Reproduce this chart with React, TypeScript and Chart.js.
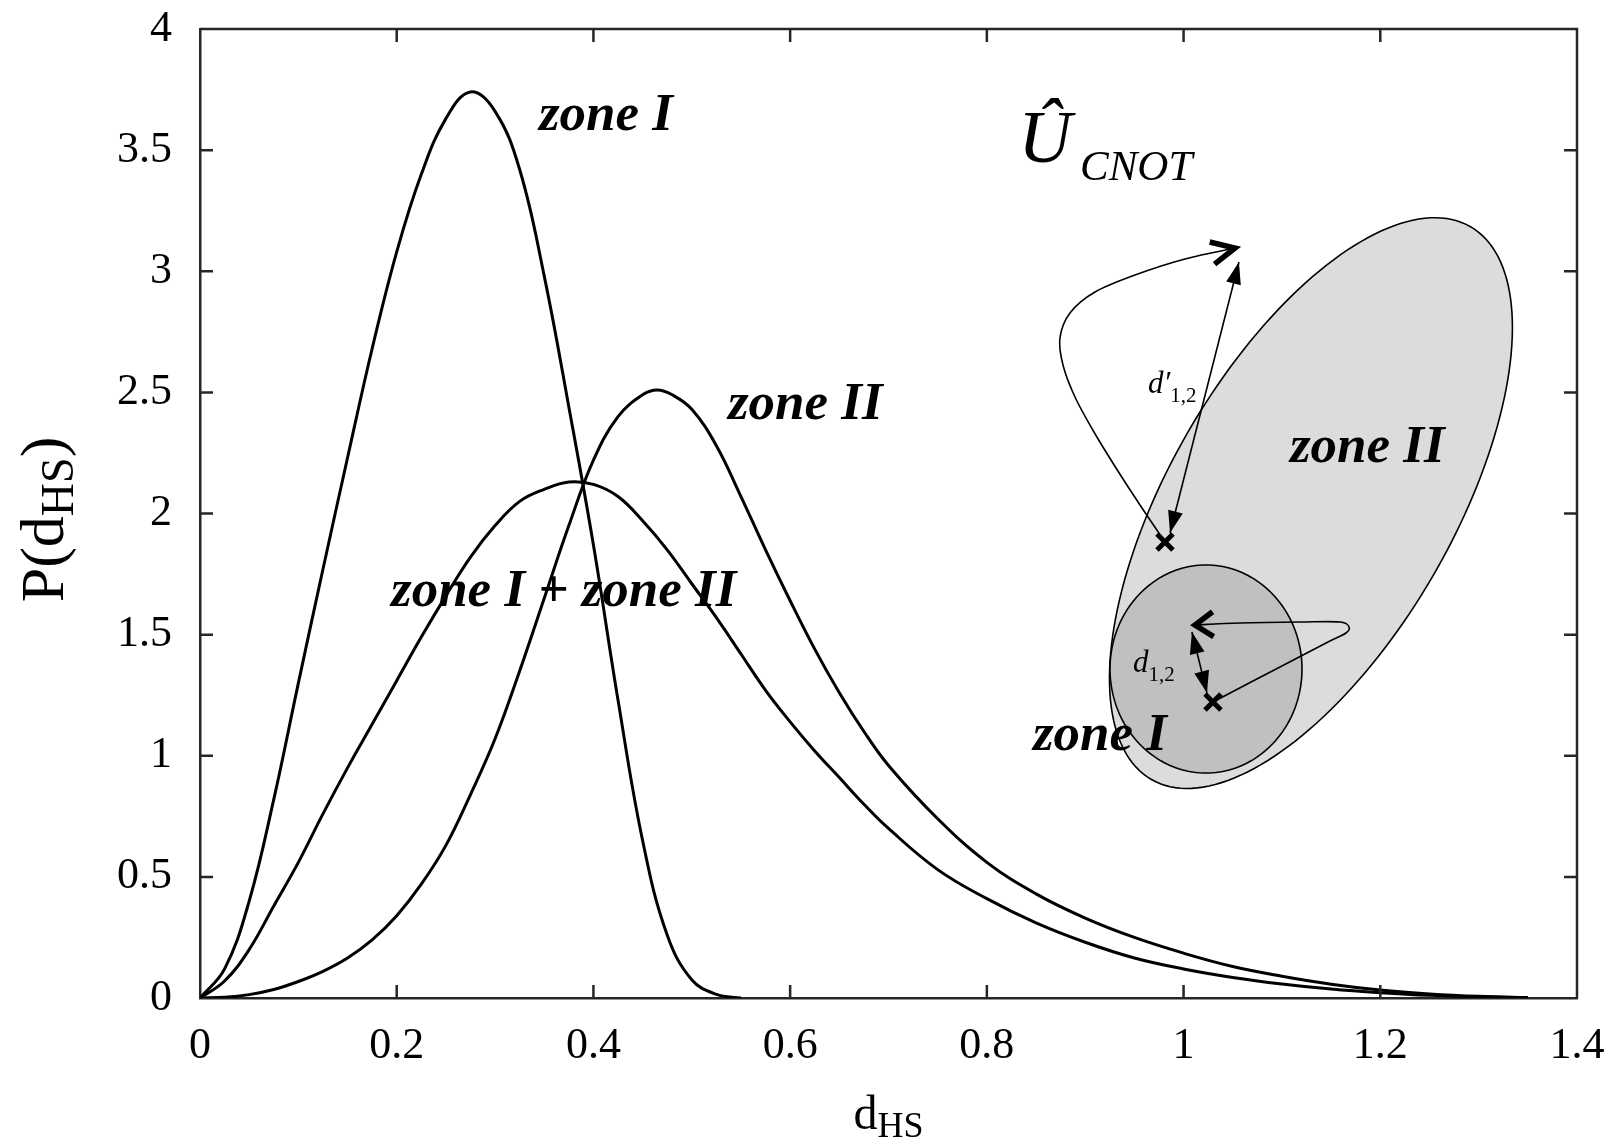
import React, { useEffect, useRef } from "react";
import { Chart, registerables } from "chart.js";

Chart.register(...registerables);

const SERIF = '"Liberation Serif", "Times New Roman", Times, serif';

// ---- axis ticks ----
const xTicks = [0, 0.2, 0.4, 0.6, 0.8, 1, 1.2, 1.4];
const yTicks = [0, 0.5, 1, 1.5, 2, 2.5, 3, 3.5, 4];

// ---- series: zone I ----
const zoneIX = [0, 0.025, 0.05, 0.075, 0.1, 0.125, 0.15, 0.175, 0.2, 0.225, 0.25, 0.275, 0.3, 0.325, 0.35, 0.375, 0.4, 0.425, 0.45, 0.475, 0.5, 0.525, 0.55];
const zoneIY = [0, 0.12, 0.4, 0.82, 1.3, 1.77, 2.23, 2.68, 3.08, 3.4, 3.63, 3.74, 3.66, 3.42, 2.98, 2.44, 1.87, 1.23, 0.65, 0.26, 0.075, 0.015, 0];

// ---- series: zone I + zone II ----
const bothX = [0, 0.025, 0.05, 0.075, 0.1, 0.125, 0.15, 0.175, 0.2, 0.225, 0.25, 0.275, 0.3, 0.325, 0.35, 0.375, 0.4, 0.425, 0.45, 0.475, 0.5, 0.525, 0.55, 0.575, 0.6, 0.625, 0.65, 0.675, 0.7, 0.75, 0.8, 0.85, 0.9, 0.95, 1.0, 1.05, 1.1, 1.15, 1.2, 1.25, 1.3, 1.35];
const bothY = [0, 0.07, 0.2, 0.38, 0.56, 0.76, 0.95, 1.13, 1.31, 1.49, 1.66, 1.82, 1.95, 2.05, 2.1, 2.13, 2.12, 2.07, 1.97, 1.85, 1.71, 1.57, 1.42, 1.27, 1.14, 1.02, 0.91, 0.8, 0.7, 0.53, 0.41, 0.31, 0.23, 0.165, 0.12, 0.085, 0.058, 0.037, 0.022, 0.011, 0.005, 0.001];

// ---- series: zone II ----
const zoneIIX = [0, 0.025, 0.05, 0.075, 0.1, 0.125, 0.15, 0.175, 0.2, 0.225, 0.25, 0.275, 0.3, 0.325, 0.35, 0.375, 0.4, 0.425, 0.45, 0.465, 0.48, 0.5, 0.525, 0.55, 0.575, 0.6, 0.625, 0.65, 0.675, 0.7, 0.75, 0.8, 0.85, 0.9, 0.95, 1.0, 1.05, 1.1, 1.15, 1.2, 1.25, 1.3, 1.35];
const zoneIIY = [0, 0.003, 0.014, 0.035, 0.068, 0.11, 0.165, 0.24, 0.34, 0.47, 0.63, 0.84, 1.07, 1.35, 1.65, 1.95, 2.22, 2.4, 2.49, 2.51, 2.49, 2.43, 2.28, 2.07, 1.85, 1.64, 1.44, 1.26, 1.1, 0.96, 0.74, 0.56, 0.43, 0.33, 0.25, 0.185, 0.13, 0.09, 0.057, 0.033, 0.017, 0.007, 0.002];

// ---- curve labels (data coords of left/baseline) ----
const curveLabelText = ["zone I", "zone II", "zone I + zone II", "zone II", "zone I"];
const curveLabelX = [0.3446, 0.5368, 0.1942, 1.1082, 0.8469];
const curveLabelY = [3.583, 2.39, 1.618, 2.2126, 1.0237];

// ---- inset sketch (data coords) ----
const bigZone = { c: [1.1295, 2.043], major: [1.2917, 3.184], minor: [1.2546, 1.75] };
const smallZone = { c: [1.0228, 1.3581], major: [1.1204, 1.3581], minor: [1.0228, 1.7874] };
const crossPts = [[0.9811, 1.882], [1.0299, 1.2219]];
const outerArrow = [[0.9862, 1.9195], [1.0563, 3.038]];
const innerArrow = [[1.0085, 1.511], [1.0238, 1.259]];
const outerPath = [[0.9811, 1.8824], [0.9557, 2.0351], [0.9313, 2.1878], [0.9089, 2.3364], [0.8896, 2.4809], [0.8774, 2.613], [0.8743, 2.7245], [0.8845, 2.8277], [0.9099, 2.9143], [0.9506, 2.9845], [1.0014, 3.0506], [1.0523, 3.096]];
const innerPath = [[1.0299, 1.2219], [1.098, 1.3664], [1.1488, 1.4737], [1.1651, 1.5067], [1.1682, 1.5315], [1.159, 1.5521], [1.1183, 1.5521], [1.0573, 1.548], [1.0116, 1.5397]];

type Pt = [number, number];

function toPx(chart: any, p: number[]): Pt {
  return [chart.scales.x.getPixelForValue(p[0]), chart.scales.y.getPixelForValue(p[1])];
}

function drawRich(ctx: CanvasRenderingContext2D, x: number, y: number, parts: { t: string; f: string; dy: number }[], align: "left" | "center" = "left") {
  let total = 0;
  for (const p of parts) {
    ctx.font = p.f;
    total += ctx.measureText(p.t).width;
  }
  let cx = align === "center" ? x - total / 2 : x;
  ctx.textAlign = "left";
  ctx.textBaseline = "alphabetic";
  for (const p of parts) {
    ctx.font = p.f;
    ctx.fillText(p.t, cx, y + p.dy);
    cx += ctx.measureText(p.t).width;
  }
}

function ellipse(ctx: CanvasRenderingContext2D, chart: any, z: any, fill: string) {
  const [cx, cy] = toPx(chart, z.c);
  const [mx, my] = toPx(chart, z.major);
  const [nx, ny] = toPx(chart, z.minor);
  const ux = mx - cx, uy = my - cy, vx = nx - cx, vy = ny - cy;
  ctx.beginPath();
  for (let i = 0; i <= 180; i++) {
    const t = (i / 180) * Math.PI * 2;
    const X = cx + ux * Math.cos(t) + vx * Math.sin(t);
    const Y = cy + uy * Math.cos(t) + vy * Math.sin(t);
    if (i === 0) ctx.moveTo(X, Y);
    else ctx.lineTo(X, Y);
  }
  ctx.closePath();
  ctx.fillStyle = fill;
  ctx.fill();
  ctx.lineWidth = 1.6;
  ctx.strokeStyle = "#000";
  ctx.stroke();
}

function smooth(ctx: CanvasRenderingContext2D, pts: Pt[]) {
  ctx.beginPath();
  ctx.moveTo(pts[0][0], pts[0][1]);
  for (let i = 0; i < pts.length - 1; i++) {
    const p0 = pts[i - 1] || pts[i];
    const p1 = pts[i];
    const p2 = pts[i + 1];
    const p3 = pts[i + 2] || p2;
    ctx.bezierCurveTo(
      p1[0] + (p2[0] - p0[0]) / 6, p1[1] + (p2[1] - p0[1]) / 6,
      p2[0] - (p3[0] - p1[0]) / 6, p2[1] - (p3[1] - p1[1]) / 6,
      p2[0], p2[1]
    );
  }
  ctx.stroke();
}

function filledHead(ctx: CanvasRenderingContext2D, tip: Pt, from: Pt, len = 22, half = 7) {
  const a = Math.atan2(tip[1] - from[1], tip[0] - from[0]);
  const bx = tip[0] - len * Math.cos(a), by = tip[1] - len * Math.sin(a);
  ctx.beginPath();
  ctx.moveTo(tip[0], tip[1]);
  ctx.lineTo(bx + half * Math.sin(a), by - half * Math.cos(a));
  ctx.lineTo(bx - half * Math.sin(a), by + half * Math.cos(a));
  ctx.closePath();
  ctx.fill();
}

function chevron(ctx: CanvasRenderingContext2D, tip: Pt, from: Pt, len = 24, ang = 0.45) {
  const a = Math.atan2(from[1] - tip[1], from[0] - tip[0]);
  ctx.save();
  ctx.lineWidth = 5.5;
  ctx.lineCap = "butt";
  ctx.lineJoin = "miter";
  ctx.beginPath();
  ctx.moveTo(tip[0] + len * Math.cos(a + ang), tip[1] + len * Math.sin(a + ang));
  ctx.lineTo(tip[0], tip[1]);
  ctx.lineTo(tip[0] + len * Math.cos(a - ang), tip[1] + len * Math.sin(a - ang));
  ctx.stroke();
  ctx.restore();
}

const decorPlugin = {
  id: "decor",
  afterDatasetsDraw(chart: any) {
    const ctx: CanvasRenderingContext2D = chart.ctx;
    ctx.save();
    ellipse(ctx, chart, bigZone, "#dcdcdc");
    ellipse(ctx, chart, smallZone, "#c0c0c0");
    ctx.strokeStyle = "#000";
    ctx.fillStyle = "#000";
    ctx.lineWidth = 1.6;
    const op = outerPath.map((p) => toPx(chart, p));
    smooth(ctx, op);
    chevron(ctx, op[op.length - 1], op[op.length - 2], 26, 0.45);
    const ip = innerPath.map((p) => toPx(chart, p));
    ctx.lineWidth = 1.6;
    smooth(ctx, ip);
    chevron(ctx, ip[ip.length - 1], ip[ip.length - 2], 22, 0.6);
    for (const seg of [outerArrow, innerArrow]) {
      const a = toPx(chart, seg[0]);
      const b = toPx(chart, seg[1]);
      ctx.lineWidth = 1.6;
      ctx.beginPath();
      ctx.moveTo(a[0], a[1]);
      ctx.lineTo(b[0], b[1]);
      ctx.stroke();
      filledHead(ctx, a, b, 22, 7.5);
      filledHead(ctx, b, a, 22, 7.5);
    }
    ctx.lineWidth = 5;
    for (const c of crossPts) {
      const [x, y] = toPx(chart, c);
      const s = 8;
      ctx.beginPath();
      ctx.moveTo(x - s, y - s);
      ctx.lineTo(x + s, y + s);
      ctx.moveTo(x + s, y - s);
      ctx.lineTo(x - s, y + s);
      ctx.stroke();
    }
    ctx.restore();
  },
  afterDraw(chart: any) {
    const ctx: CanvasRenderingContext2D = chart.ctx;
    const { left, right, top, bottom } = chart.chartArea;
    const xs = chart.scales.x;
    const ys = chart.scales.y;
    ctx.save();
    ctx.strokeStyle = "#262626";
    ctx.lineWidth = 2.5;
    ctx.beginPath();
    ctx.moveTo(left, top);
    ctx.lineTo(right, top);
    ctx.lineTo(right, bottom);
    ctx.stroke();
    const tl = 13;
    ctx.beginPath();
    for (const v of xTicks) {
      if (v === xTicks[0] || v === xTicks[xTicks.length - 1]) continue;
      const px = xs.getPixelForValue(v);
      ctx.moveTo(px, bottom);
      ctx.lineTo(px, bottom - tl);
      ctx.moveTo(px, top);
      ctx.lineTo(px, top + tl);
    }
    for (const v of yTicks) {
      if (v === yTicks[0] || v === yTicks[yTicks.length - 1]) continue;
      const py = ys.getPixelForValue(v);
      ctx.moveTo(left, py);
      ctx.lineTo(left + tl, py);
      ctx.moveTo(right, py);
      ctx.lineTo(right - tl, py);
    }
    ctx.stroke();

    ctx.fillStyle = "#000";
    const lf = `italic bold 53px ${SERIF}`;
    curveLabelText.forEach((t, i) => {
      const [x, y] = toPx(chart, [curveLabelX[i], curveLabelY[i]]);
      drawRich(ctx, x, y, [{ t, f: lf, dy: 0 }]);
    });

    {
      const [x, y] = toPx(chart, [0.832, 3.451]);
      drawRich(ctx, x, y, [{ t: "Û", f: `italic 74px ${SERIF}`, dy: 0 }]);
      const [x2, y2] = toPx(chart, [0.8947, 3.377]);
      drawRich(ctx, x2, y2, [{ t: "CNOT", f: `italic 43px ${SERIF}`, dy: 0 }]);
    }
    {
      const [x, y] = toPx(chart, [0.9638, 2.4974]);
      drawRich(ctx, x, y, [
        { t: "d′", f: `italic 31px ${SERIF}`, dy: 0 },
        { t: "1,2", f: `21px ${SERIF}`, dy: 9 },
      ]);
      const [x2, y2] = toPx(chart, [0.9486, 1.3457]);
      drawRich(ctx, x2, y2, [
        { t: "d", f: `italic 31px ${SERIF}`, dy: 0 },
        { t: "1,2", f: `21px ${SERIF}`, dy: 9 },
      ]);
    }

    const cx = (left + right) / 2;
    drawRich(ctx, cx, 1129, [
      { t: "d", f: `48px ${SERIF}`, dy: 0 },
      { t: "HS", f: `36px ${SERIF}`, dy: 8 },
    ], "center");
    ctx.save();
    ctx.translate(63, (top + bottom) / 2 + 6);
    ctx.rotate(-Math.PI / 2);
    drawRich(ctx, 0, 0, [
      { t: "P(d", f: `62px ${SERIF}`, dy: 0 },
      { t: "HS", f: `46px ${SERIF}`, dy: 10 },
      { t: ")", f: `62px ${SERIF}`, dy: 0 },
    ], "center");
    ctx.restore();
    ctx.restore();
  },
};

function series(label: string, xs: number[], ys: number[]) {
  return {
    label,
    data: xs.map((x, i) => ({ x, y: ys[i] })),
    borderColor: "#000",
    borderWidth: 3,
    pointRadius: 0,
    showLine: true,
    fill: false,
    tension: 0.4,
  };
}

const fmt = (v: any) => String(Math.round(Number(v) * 100) / 100);

export default function App() {
  const ref = useRef<HTMLCanvasElement | null>(null);
  useEffect(() => {
    if (!ref.current) return;
    const chart = new Chart(ref.current, {
      type: "scatter",
      data: {
        datasets: [
          series("zone I", zoneIX, zoneIY),
          series("zone I + zone II", bothX, bothY),
          series("zone II", zoneIIX, zoneIIY),
        ],
      },
      options: {
        animation: false,
        responsive: false,
        devicePixelRatio: 1,
        layout: { padding: { top: 29, right: 35, left: 0, bottom: 0 } },
        plugins: { legend: { display: false }, tooltip: { enabled: false } },
        scales: {
          x: {
            type: "linear",
            min: 0,
            max: 1.4,
            afterFit: (s: any) => { s.height = 148; s.paddingLeft = 0; s.paddingRight = 0; },
            afterBuildTicks: (s: any) => { s.ticks = xTicks.map((v) => ({ value: v })); },
            ticks: {
              color: "#000",
              font: { family: SERIF, size: 44 },
              padding: 22,
              maxRotation: 0,
              autoSkip: false,
              callback: fmt,
            },
            grid: { display: false, drawTicks: false },
            border: { display: true, color: "#262626", width: 2.5 },
          },
          y: {
            type: "linear",
            min: 0,
            max: 4,
            afterFit: (s: any) => { s.width = 200; s.paddingTop = 0; s.paddingBottom = 0; },
            afterBuildTicks: (s: any) => { s.ticks = yTicks.map((v) => ({ value: v })); },
            ticks: {
              color: "#000",
              font: { family: SERIF, size: 44 },
              padding: 28,
              autoSkip: false,
              callback: fmt,
            },
            grid: { display: false, drawTicks: false },
            border: { display: true, color: "#262626", width: 2.5 },
          },
        },
      },
      plugins: [decorPlugin],
    });
    return () => chart.destroy();
  }, []);
  return (
    <div style={{ position: "absolute", left: 0, top: 0, width: 1612, height: 1146, background: "#fff" }}>
      <canvas ref={ref} width={1612} height={1146} style={{ width: 1612, height: 1146, display: "block" }} />
    </div>
  );
}
